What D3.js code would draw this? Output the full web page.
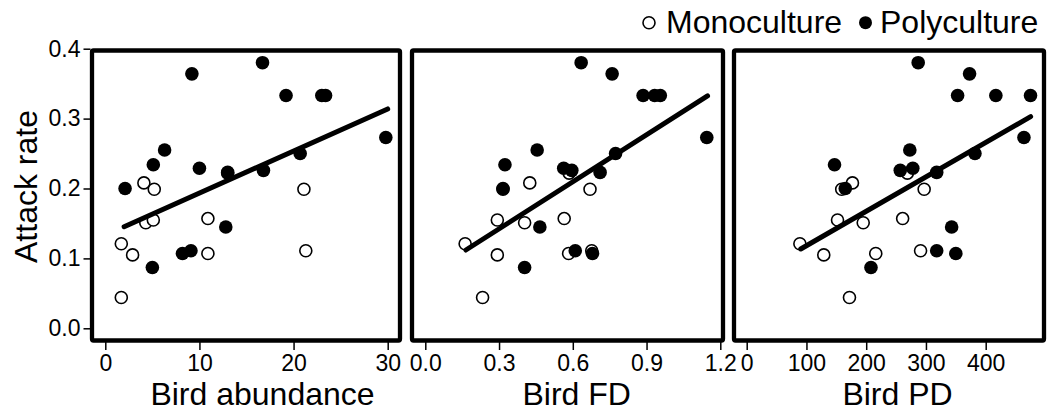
<!DOCTYPE html>
<html>
<head>
<meta charset="utf-8">
<script src="https://cdn.jsdelivr.net/npm/d3@7"></script>
<style>
  html, body { margin: 0; padding: 0; background: #fff; }
  svg { display: block; font-family: "Liberation Sans", Arial, Helvetica, sans-serif; }
</style>
</head>
<body>
<svg id="chart" width="1049" height="413"></svg>
<script>
// Attack rate per site, with habitat type and three bird predictors
const attackRate = [0.380, 0.364, 0.333, 0.333, 0.333, 0.273, 0.250, 0.234, 0.255, 0.200,
                    0.229, 0.226, 0.223, 0.145, 0.111, 0.107, 0.087,
                    0.208, 0.199, 0.199, 0.151, 0.155, 0.157, 0.121, 0.105, 0.107, 0.111, 0.044, 0.222];
const habitat = ["Poly","Poly","Poly","Poly","Poly","Poly","Poly","Poly","Poly","Poly",
                 "Poly","Poly","Poly","Poly","Poly","Poly","Poly",
                 "Mono","Mono","Mono","Mono","Mono","Mono","Mono","Mono","Mono","Mono","Mono","Mono"];
const birdAbundance = [16.7, 9.2, 19.2, 23.0, 23.4, 29.8, 20.7, 5.1, 6.3, 2.1,
                       10.0, 16.8, 13.0, 12.8, 9.1, 8.2, 5.0,
                       4.1, 5.2, 21.1, 4.3, 5.1, 10.9, 1.7, 2.9, 10.9, 21.3, 1.7, 13.0];
const birdFD = [0.634, 0.760, 0.886, 0.933, 0.956, 1.145, 0.774, 0.324, 0.455, 0.316,
                0.563, 0.596, 0.711, 0.466, 0.610, 0.680, 0.404,
                0.425, 0.316, 0.670, 0.404, 0.293, 0.565, 0.162, 0.293, 0.583, 0.677, 0.233, 0.585];
const birdPD = [287, 373, 353, 417, 475, 464, 382, 147, 273, 165,
                278, 257, 318, 343, 318, 350, 208,
                177, 159, 297, 195, 152, 261, 89, 129, 216, 291, 172, 269];

// Panel labels, tick values and fitted lines (intercept, slope, x range)
const panelTitles = ["Bird abundance", "Bird FD", "Bird PD"];
const abundanceTicks = [0, 10, 20, 30];
const fdTicks = [0.0, 0.3, 0.6, 0.9, 1.2];
const pdTicks = [0, 100, 200, 300, 400];
const attackTicks = [0.0, 0.1, 0.2, 0.3, 0.4];
const fitIntercept = [0.1332, 0.0750, 0.0690];
const fitSlope = [0.00602, 0.2242, 0.000492];
const fitFrom = [2.0, 0.165, 90.4];
const fitTo = [30.0, 1.148, 475.2];
const legendLabels = ["Monoculture", "Polyculture"];

const svg = d3.select("#chart");

const boxTop = 50.5, boxBottom = 340.5;
const panels = [
  { x: birdAbundance, ticks: abundanceTicks, fmt: d3.format("d"),
    left: 92, right: 400, dom: [0, 30], rng: [105.3, 387.7], titleX: 262.5 },
  { x: birdFD, ticks: fdTicks, fmt: d3.format(".1f"),
    left: 412, right: 723, dom: [0, 1.2], rng: [425.3, 720.3], titleX: 576.7 },
  { x: birdPD, ticks: pdTicks, fmt: d3.format("d"),
    left: 734, right: 1044, dom: [0, 400], rng: [746.7, 985.7], titleX: 897.5 }
];

const y = d3.scaleLinear().domain([0, 0.4]).range([328.3, 48.7]);

const tickFont = "23px";
const titleFont = "32px";

panels.forEach((p, i) => {
  const x = d3.scaleLinear().domain(p.dom).range(p.rng);
  const g = svg.append("g");

  // x axis ticks below the frame
  const ax = g.append("g")
    .attr("transform", `translate(0,${boxBottom + 1.5})`)
    .call(d3.axisBottom(x).tickValues(p.ticks).tickFormat(p.fmt)
      .tickSize(8).tickSizeOuter(0).tickPadding(5));
  ax.select(".domain").remove();
  ax.selectAll(".tick line").attr("stroke", "#000").attr("stroke-width", 1.5);
  ax.selectAll(".tick text").attr("fill", "#000").style("font-size", tickFont)
    .style("font-family", "'Liberation Sans', Arial, sans-serif");

  // y axis on the first panel only
  if (i === 0) {
    const ay = g.append("g")
      .attr("transform", `translate(${p.left - 1.5},0)`)
      .call(d3.axisLeft(y).tickValues(attackTicks).tickFormat(d3.format(".1f"))
        .tickSize(7).tickSizeOuter(0).tickPadding(3));
    ay.select(".domain").remove();
    ay.selectAll(".tick line").attr("stroke", "#000").attr("stroke-width", 1.5);
    ay.selectAll(".tick text").attr("fill", "#000").style("font-size", tickFont)
      .style("font-family", "'Liberation Sans', Arial, sans-serif");
  }

  const idx = d3.range(attackRate.length);
  const mono = idx.filter(k => habitat[k] === "Mono");
  const poly = idx.filter(k => habitat[k] === "Poly");

  // open circles for monoculture sites
  g.selectAll("circle.mono").data(mono).join("circle")
    .attr("class", "mono")
    .attr("cx", k => x(p.x[k])).attr("cy", k => y(attackRate[k]))
    .attr("r", 6).attr("fill", "#fff").attr("stroke", "#000").attr("stroke-width", 1.6);

  // filled circles for polyculture sites
  g.selectAll("circle.poly").data(poly).join("circle")
    .attr("class", "poly")
    .attr("cx", k => x(p.x[k])).attr("cy", k => y(attackRate[k]))
    .attr("r", 6.8).attr("fill", "#000");

  // fitted line
  const fx = [fitFrom[i], fitTo[i]];
  g.append("line")
    .attr("x1", x(fx[0])).attr("y1", y(fitIntercept[i] + fitSlope[i] * fx[0]))
    .attr("x2", x(fx[1])).attr("y2", y(fitIntercept[i] + fitSlope[i] * fx[1]))
    .attr("stroke", "#000").attr("stroke-width", 5).attr("stroke-linecap", "round");

  // frame
  g.append("rect")
    .attr("x", p.left).attr("y", boxTop)
    .attr("width", p.right - p.left).attr("height", boxBottom - boxTop)
    .attr("fill", "none").attr("stroke", "#000").attr("stroke-width", 4.3)
    .attr("stroke-linejoin", "round").attr("rx", 1.5);

  // axis title
  svg.append("text")
    .attr("x", p.titleX).attr("y", 405)
    .attr("text-anchor", "middle").style("font-size", titleFont)
    .text(panelTitles[i]);
});

// y axis title
svg.append("text")
  .attr("transform", "translate(37,186.5) rotate(-90)")
  .attr("text-anchor", "middle").style("font-size", titleFont)
  .text("Attack rate");

// legend
const legend = svg.append("g");
legend.append("circle").attr("cx", 649).attr("cy", 22.7).attr("r", 6)
  .attr("fill", "#fff").attr("stroke", "#000").attr("stroke-width", 1.6);
legend.append("text").attr("x", 666).attr("y", 33.3).style("font-size", titleFont).text(legendLabels[0]);
legend.append("circle").attr("cx", 865.5).attr("cy", 22.7).attr("r", 6.5).attr("fill", "#000");
legend.append("text").attr("x", 880).attr("y", 33.3).style("font-size", titleFont).text(legendLabels[1]);
</script>
</body>
</html>
